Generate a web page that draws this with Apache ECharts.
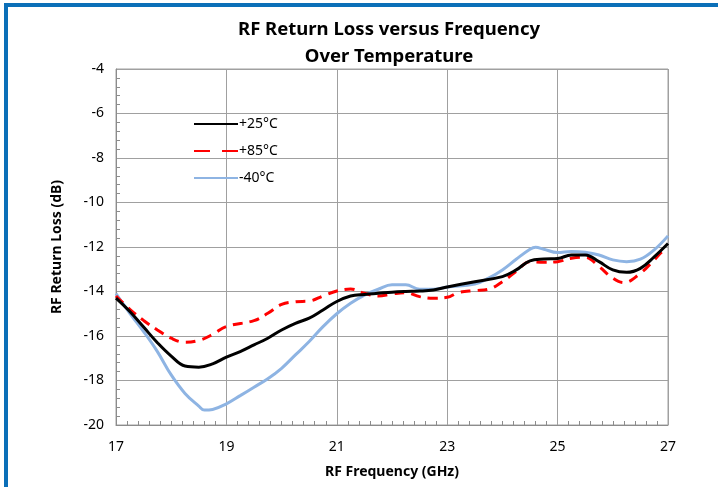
<!DOCTYPE html>
<html>
<head>
<meta charset="utf-8">
<script src="https://cdn.jsdelivr.net/npm/echarts@6/dist/echarts.min.js"></script>
<style>
  html, body { margin: 0; padding: 0; background: #fff; }
  #chart { width: 718px; height: 487px; }
</style>
</head>
<body>
<div id="chart"></div>
<script>
// frequency (GHz) and return loss (dB)
const freq25 = [17, 17.25, 17.5, 17.75, 18, 18.25, 18.5, 18.75, 19, 19.25, 19.5, 19.75, 20, 20.25, 20.5, 20.75, 21, 21.25, 21.5, 21.75, 22, 22.25, 22.5, 22.75, 23, 23.5, 24, 24.25, 24.5, 24.75, 25, 25.25, 25.5, 25.75, 26, 26.25, 26.5, 26.75, 27]
const loss25 = [-14.3, -14.9, -15.6, -16.3, -16.9, -17.35, -17.4, -17.25, -16.95, -16.7, -16.4, -16.1, -15.73, -15.43, -15.2, -14.83, -14.45, -14.2, -14.13, -14.08, -14.03, -14.0, -13.98, -13.93, -13.8, -13.56, -13.33, -13.03, -12.62, -12.54, -12.52, -12.36, -12.36, -12.66, -13.03, -13.14, -12.96, -12.44, -11.84]

const freq85 = [17, 17.25, 17.5, 17.75, 18, 18.25, 18.5, 18.75, 19, 19.5, 19.75, 20, 20.25, 20.5, 20.75, 21, 21.25, 21.5, 21.75, 22, 22.25, 22.5, 22.75, 23, 23.2, 23.5, 23.75, 24, 24.25, 24.5, 24.75, 25, 25.25, 25.5, 25.75, 26, 26.2, 26.5, 26.75, 26.9, 27]
const loss85 = [-14.2, -14.8, -15.3, -15.73, -16.1, -16.28, -16.2, -15.93, -15.57, -15.31, -14.98, -14.58, -14.46, -14.43, -14.2, -13.98, -13.89, -14.08, -14.2, -14.11, -14.05, -14.23, -14.3, -14.26, -14.05, -13.96, -13.9, -13.56, -13.1, -12.66, -12.69, -12.66, -12.51, -12.46, -12.88, -13.4, -13.6, -13.18, -12.58, -12.2, -12.13]

const freq40 = [17, 17.25, 17.5, 17.75, 18, 18.25, 18.5, 18.6, 18.75, 19, 19.25, 19.5, 19.75, 20, 20.25, 20.5, 20.75, 21, 21.25, 21.5, 21.75, 22, 22.25, 22.5, 22.75, 23, 23.5, 23.75, 24, 24.25, 24.5, 24.6, 24.75, 25, 25.25, 25.5, 25.75, 26, 26.25, 26.5, 26.75, 27]
const loss40 = [-14.1, -14.98, -15.8, -16.7, -17.75, -18.58, -19.15, -19.33, -19.3, -19.05, -18.68, -18.3, -17.92, -17.45, -16.85, -16.25, -15.58, -15.0, -14.53, -14.16, -13.9, -13.7, -13.7, -13.9, -13.9, -13.8, -13.66, -13.4, -13.03, -12.55, -12.1, -12.01, -12.1, -12.25, -12.2, -12.24, -12.36, -12.58, -12.66, -12.55, -12.13, -11.5]

const seriesNames = ['+25°C', '+85°C', '-40°C']
const xTicks = { min: 17, max: 27, step: 2 }
const yTicks = { min: -20, max: -4, step: 2 }

const zip = (xs, ys) => xs.map((x, i) => [x, ys[i]])
const font = '"Noto Sans", sans-serif'

const chart = echarts.init(document.getElementById('chart'))
const option = {
  backgroundColor: '#fff',
  animation: false,
  title: {
    text: 'RF Return Loss versus Frequency\nOver Temperature',
    left: 384,
    textAlign: 'center',
    top: 11,
    itemGap: 0,
    textStyle: {
      fontFamily: font,
      fontSize: 18.5,
      fontWeight: 'bold',
      color: '#000',
      lineHeight: 27
    }
  },
  grid: { left: 116, right: 50, top: 69, bottom: 62 },
  legend: {
    orient: 'vertical',
    left: 188,
    top: 112,
    itemWidth: 44,
    itemHeight: 14,
    itemGap: 13,
    data: [
      { name: seriesNames[0] },
      { name: seriesNames[1], lineStyle: { type: [16, 12] } },
      { name: seriesNames[2] }
    ],
    itemStyle: { opacity: 0 },
    textStyle: { fontFamily: font, fontSize: 14, color: '#000', padding: [0, 0, 0, -4] }
  },
  xAxis: {
    type: 'value',
    min: xTicks.min,
    max: xTicks.max,
    interval: xTicks.step,
    name: 'RF Frequency (GHz)',
    nameLocation: 'middle',
    nameGap: 40,
    nameTextStyle: { fontFamily: font, fontSize: 14, fontWeight: 'bold', color: '#000' },
    axisLine: { show: true, lineStyle: { color: '#8c8c8c', width: 1 } },
    axisTick: { show: false, inside: true },
    minorTick: { show: true, splitNumber: 10, length: 4, lineStyle: { color: '#8c8c8c' } },
    axisLabel: { fontFamily: font, fontSize: 14, color: '#000', margin: 15 },
    splitLine: { show: true, lineStyle: { color: '#a0a0a0', width: 1 } }
  },
  yAxis: {
    type: 'value',
    min: yTicks.min,
    max: yTicks.max,
    interval: yTicks.step,
    name: 'RF Return Loss (dB)',
    nameLocation: 'middle',
    nameGap: 52,
    nameTextStyle: { fontFamily: font, fontSize: 14, fontWeight: 'bold', color: '#000' },
    axisLine: { show: true, lineStyle: { color: '#8c8c8c', width: 1 } },
    axisTick: { show: false, inside: true },
    minorTick: { show: true, splitNumber: 5, length: 4, lineStyle: { color: '#8c8c8c' } },
    axisLabel: { fontFamily: font, fontSize: 14, color: '#000', margin: 12 },
    splitLine: { show: true, lineStyle: { color: '#a0a0a0', width: 1 } }
  },
  graphic: [
    { type: 'rect', shape: { x: 4, y: 3, width: 714, height: 4 }, style: { fill: '#0b6fb8' } },
    { type: 'rect', shape: { x: 4, y: 3, width: 4, height: 484 }, style: { fill: '#0b6fb8' } },
    { type: 'rect', shape: { x: 116, y: 69, width: 552, height: 356 }, style: { fill: 'none', stroke: '#a0a0a0', lineWidth: 1 }, silent: true }
  ],
  series: [
    {
      name: seriesNames[0],
      type: 'line',
      data: zip(freq25, loss25),
      smooth: 0.4,
      symbol: 'none',
      lineStyle: { color: '#000', width: 3 },
      itemStyle: { color: '#000' },
      z: 4
    },
    {
      name: seriesNames[1],
      type: 'line',
      data: zip(freq85, loss85),
      smooth: 0.4,
      symbol: 'none',
      lineStyle: { color: '#ff0000', width: 3, type: [10, 7] },
      itemStyle: { color: '#ff0000' },
      z: 3
    },
    {
      name: seriesNames[2],
      type: 'line',
      data: zip(freq40, loss40),
      smooth: 0.4,
      symbol: 'none',
      lineStyle: { color: '#8eb4e3', width: 3 },
      itemStyle: { color: '#8eb4e3' },
      z: 2
    }
  ]
}
chart.setOption(option)
</script>
</body>
</html>
